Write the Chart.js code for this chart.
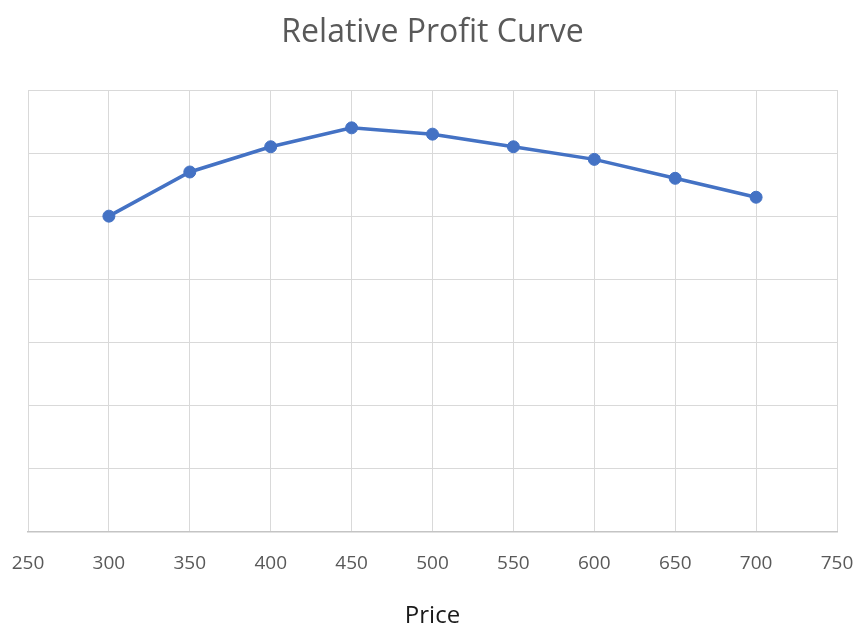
<!DOCTYPE html>
<html>
<head>
<meta charset="utf-8">
<title>Relative Profit Curve</title>
<script src="https://cdn.jsdelivr.net/npm/chart.js@4/dist/chart.umd.min.js"></script>
<style>
  html, body { margin: 0; padding: 0; background: #ffffff; }
  #wrap { width: 855px; height: 626px; }
</style>
</head>
<body>
<div id="wrap"><canvas id="chart" width="855" height="626"></canvas></div>
<script>
// Price points and relative profit at each price
const prices = [300, 350, 400, 450, 500, 550, 600, 650, 700];
const relativeProfit = [5.0, 5.7, 6.1, 6.4, 6.3, 6.1, 5.9, 5.6, 5.3];

// Axis ranges
const priceMin = 250, priceMax = 750, priceStep = 50;
const profitMin = 0, profitMax = 7, profitStep = 1;

const FONT = "'Open Sans', 'DejaVu Sans', sans-serif";
const LINE_BLUE = '#4472C4';
const GRID = '#d9d9d9';
const TEXT_GREY = '#595959';

const points = prices.map((p, i) => ({ x: p, y: relativeProfit[i] }));

new Chart(document.getElementById('chart'), {
  type: 'line',
  data: {
    datasets: [{
      label: 'Relative Profit',
      data: points,
      borderColor: LINE_BLUE,
      backgroundColor: LINE_BLUE,
      borderWidth: 3.5,
      pointRadius: 6,
      pointBorderWidth: 1,
      pointBackgroundColor: LINE_BLUE,
      pointBorderColor: LINE_BLUE,
      tension: 0,
      fill: false
    }]
  },
  options: {
    responsive: false,
    animation: false,
    layout: { padding: { left: 28, right: 18, top: 0, bottom: 0 } },
    plugins: {
      legend: { display: false },
      tooltip: { enabled: false },
      title: {
        display: true,
        text: 'Relative Profit Curve',
        color: TEXT_GREY,
        font: { family: FONT, size: 32, weight: 'normal', lineHeight: 1 },
        padding: { top: 17, bottom: 41 }
      }
    },
    scales: {
      x: {
        type: 'linear',
        min: priceMin,
        max: priceMax,
        ticks: {
          stepSize: priceStep,
          color: TEXT_GREY,
          font: { family: FONT, size: 19 },
          padding: 21,
          maxRotation: 0
        },
        grid: { color: GRID, lineWidth: 1, drawTicks: false },
        border: { display: true, color: '#c4c4c4', width: 1.5 },
        title: {
          display: true,
          text: 'Price',
          color: '#1a1a1a',
          font: { family: FONT, size: 24, lineHeight: 0.85 },
          padding: { top: 0, bottom: 0 }
        },
        afterFit(scale) {
          scale.height = 94.5;
          scale.paddingLeft = 0;
          scale.paddingRight = 0;
        }
      },
      y: {
        type: 'linear',
        min: profitMin,
        max: profitMax,
        ticks: { stepSize: profitStep, display: false },
        grid: { color: GRID, lineWidth: 1, drawTicks: false },
        border: { display: false },
        afterFit(scale) { scale.width = 0; }
      }
    }
  }
});
</script>
</body>
</html>
